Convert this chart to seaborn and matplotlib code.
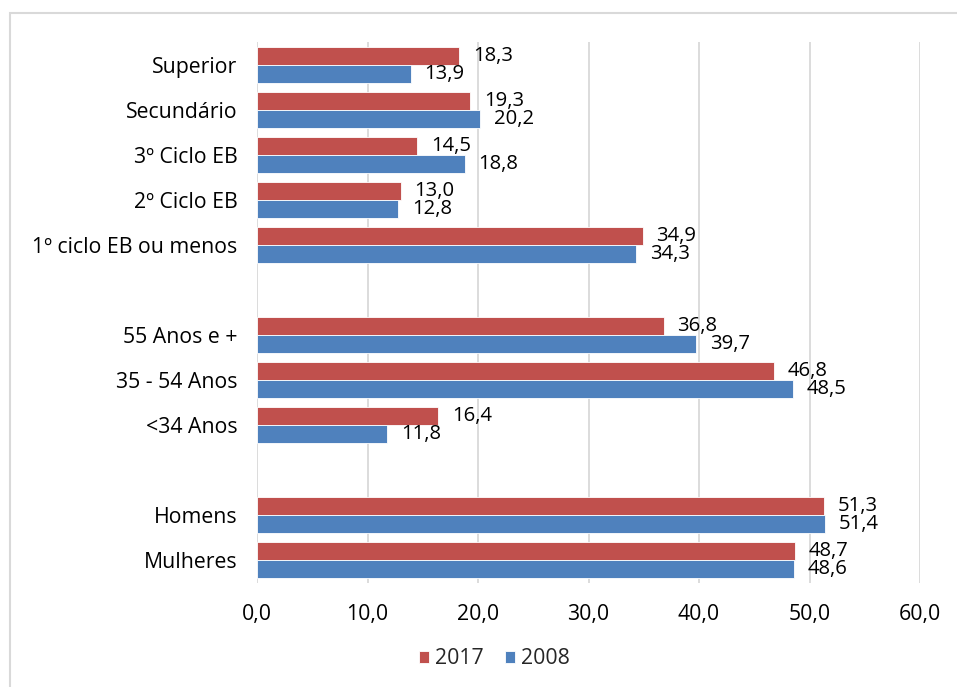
import matplotlib
matplotlib.use("Agg")
import matplotlib.pyplot as plt
from matplotlib.patches import Rectangle
from matplotlib.ticker import FuncFormatter
import pandas as pd
import seaborn as sns

# Categories top to bottom; blank entries separate the three groups
categories = [
    "Superior", "Secundário", "3º Ciclo EB", "2º Ciclo EB", "1º ciclo EB ou menos",
    " ",
    "55 Anos e +", "35 - 54 Anos", "<34 Anos",
    "  ",
    "Homens", "Mulheres",
]
data_categories = [
    "Superior", "Secundário", "3º Ciclo EB", "2º Ciclo EB", "1º ciclo EB ou menos",
    "55 Anos e +", "35 - 54 Anos", "<34 Anos",
    "Homens", "Mulheres",
]
values_2017 = [18.3, 19.3, 14.5, 13.0, 34.9, 36.8, 46.8, 16.4, 51.3, 48.7]
values_2008 = [13.9, 20.2, 18.8, 12.8, 34.3, 39.7, 48.5, 11.8, 51.4, 48.6]
years = ["2017", "2008"]
x_ticks = [0, 10, 20, 30, 40, 50, 60]

colors = {"2017": "#C0504D", "2008": "#4F81BD"}

df = pd.concat([
    pd.DataFrame({"cat": data_categories, "valor": values_2017, "ano": "2017"}),
    pd.DataFrame({"cat": data_categories, "valor": values_2008, "ano": "2008"}),
])

sns.set_theme(style="white")
plt.rcParams["font.family"] = ["Open Sans", "DejaVu Sans"]

FS = 15.3
W, H = 957, 687
fig = plt.figure(figsize=(W / 100, H / 100), dpi=100)
ax = fig.add_axes([257 / W, 1 - 583 / H, (920 - 257) / W, (583 - 42) / H])

sns.barplot(
    data=df, y="cat", x="valor", hue="ano", order=categories, hue_order=years,
    palette=colors, orient="h", width=0.8, edgecolor="white", linewidth=0.6,
    saturation=1, ax=ax, legend=True,
)

fmt = lambda v: f"{v:.1f}".replace(".", ",")
for cont in ax.containers:
    ax.bar_label(cont, fmt=fmt, padding=10, fontsize=14.6, color="black")

ax.set_xlim(0, 60)
ax.set_xticks(x_ticks)
ax.xaxis.set_major_formatter(FuncFormatter(lambda v, p: fmt(v)))
ax.grid(axis="x", color="#D9D9D9", linewidth=1.3)
ax.grid(axis="y", visible=False)
ax.set_axisbelow(True)
for s in ax.spines.values():
    s.set_visible(False)
ax.set_xlabel("")
ax.set_ylabel("")
ax.tick_params(axis="x", length=0, pad=15, labelsize=FS, labelcolor="black")
ax.tick_params(axis="y", length=0, pad=14, labelsize=FS, labelcolor="black")

leg = ax.get_legend()
handles, labels = ax.get_legend_handles_labels()
leg.remove()
fig.legend(
    handles, labels, loc="center", bbox_to_anchor=(494 / W, 1 - 659 / H),
    ncol=2, frameon=False, fontsize=FS, handlelength=0.5, handleheight=0.5,
    handletextpad=0.25, columnspacing=1.0,
)

# Chart-area frame
fig.add_artist(Rectangle((9.5 / W, -0.05), 1.2, 1.05 - 12.5 / H,
                         transform=fig.transFigure, fill=False,
                         edgecolor="#D9D9D9", linewidth=1.5))

fig.savefig("out.png", dpi=100, facecolor="white")
